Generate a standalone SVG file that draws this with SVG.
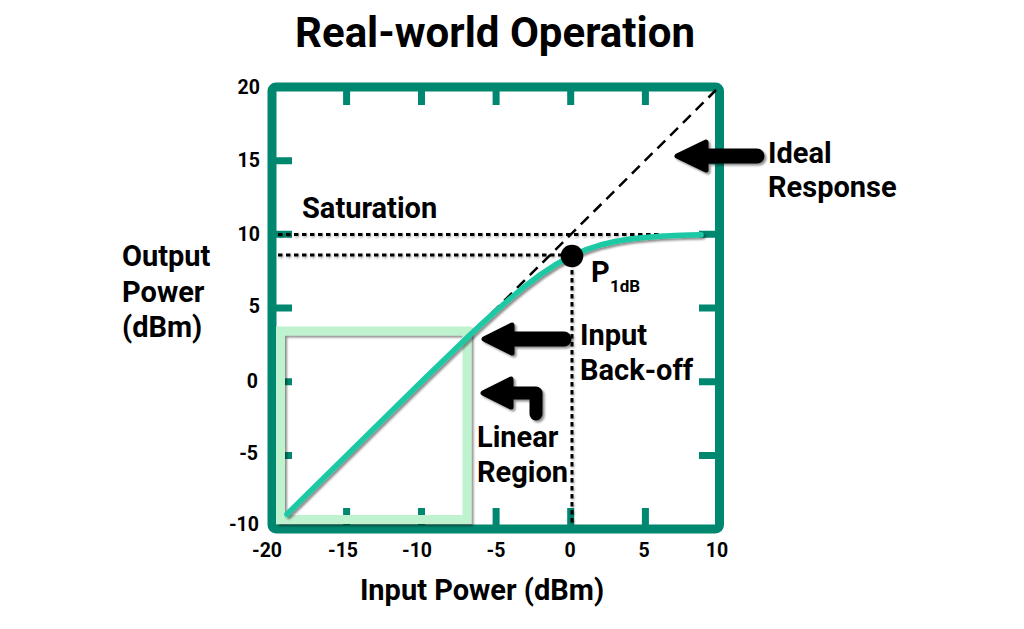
<svg xmlns="http://www.w3.org/2000/svg" width="1024" height="629" viewBox="0 0 1024 629">
<style>
text{font-family:Roboto,"Liberation Sans",sans-serif;font-weight:700;fill:#000}
.t{font-size:29px}
.tick{font-size:19.5px}
.frame{fill:none;stroke:#00876F;stroke-width:9}
.tk{stroke:#00876F;stroke-width:7;fill:none}
.curve{fill:none;stroke:#1DC9A4;stroke-width:5.5;stroke-linecap:round;stroke-linejoin:round}
.dot{fill:none;stroke:#000;stroke-width:3;stroke-dasharray:4.5 3.5}
.dash{fill:none;stroke:#000;stroke-width:2.5;stroke-dasharray:11 7}
.arr{fill:#000;stroke:#000;stroke-width:5;stroke-linejoin:round;stroke-linecap:round}
.shaft{fill:none;stroke:#000;stroke-width:15;stroke-linecap:round;stroke-linejoin:round}
</style>
<defs>
<filter id="sh" filterUnits="userSpaceOnUse" x="0" y="0" width="1024" height="629">
<feDropShadow dx="2" dy="2" stdDeviation="1.2" flood-color="#000" flood-opacity="0.45"/>
</filter>
<filter id="shl" filterUnits="userSpaceOnUse" x="0" y="0" width="1024" height="629">
<feDropShadow dx="1" dy="1.5" stdDeviation="1" flood-color="#000" flood-opacity="0.3"/>
</filter>
</defs>
<rect width="1024" height="629" fill="#fff"/>

<g id="title"><text x="495" y="46.5" font-size="42" text-anchor="middle">Real-world Operation</text></g>

<g id="axes">
<g class="tk">
<path d="M346.6 91V105M421.5 91V105M496.1 91V105M570.7 91V105M645.4 91V105"/>
<path d="M276 160.7H292M276 234.3H292M276 308H292M276 381.7H292M276 455.4H292"/>
<path d="M715 160.7H699M715 234.3H699M715 308H699M715 381.7H699M715 455.4H699"/>
<path d="M346.6 525V508M421.5 525V508M496.1 525V508M570.7 525V508M645.4 525V508"/>
</g>
<rect class="frame" x="272" y="87" width="447.5" height="442" rx="4"/>
<g class="tick" text-anchor="end">
<text x="260" y="94">20</text>
<text x="260" y="167">15</text>
<text x="260" y="241">10</text>
<text x="260" y="313">5</text>
<text x="258" y="388">0</text>
<text x="258" y="460">-5</text>
<text x="259" y="531">-10</text>
</g>
<g class="tick" text-anchor="middle">
<text x="267" y="557">-20</text>
<text x="343" y="557">-15</text>
<text x="417" y="557">-10</text>
<text x="496" y="557">-5</text>
<text x="570" y="557">0</text>
<text x="644" y="557">5</text>
<text x="717" y="557">10</text>
</g>
<text class="t" x="482" y="600" text-anchor="middle">Input Power (dBm)</text>
<text class="t" x="122" y="266">Output</text>
<text class="t" x="122" y="301.5">Power</text>
<text class="t" x="122" y="336.5">(dBm)</text>
</g>

<g id="linear-region">
<rect x="280.5" y="331" width="186.5" height="188.5" fill="none" stroke="#BFF2CF" stroke-width="9" filter="url(#sh)"/>
</g>

<g id="connectors">
<path class="dot" d="M278 234.5H660" filter="url(#shl)"/>
<path class="dot" d="M278 255H562" filter="url(#shl)"/>
<path class="dot" d="M572 262V523" filter="url(#shl)"/>
<path class="dash" d="M466 338.7L716 90"/>
<path class="curve" filter="url(#sh)" d="M286.9 514.3L421.2 382L465.9 338.7L480.8 324.7L495.8 311L510.7 298L525.6 285.7L540.5 274.5L555.4 264.7L570.3 256.5L585.3 249.9L600.2 245L615.1 241.5L630 239L644.9 237.4L659.8 236.3L674.8 235.5L689.7 235L701 234.7"/>
</g>

<g id="p1db">
<circle cx="572" cy="256" r="11.3" fill="#000"/>
<text class="t" x="591" y="282">P</text>
<text x="610" y="292" font-size="17">1dB</text>
</g>

<g id="saturation"><text class="t" x="302" y="218">Saturation</text></g>

<g id="ideal-response" filter="url(#sh)">
<path class="shaft" d="M700 156H757"/>
<path class="arr" d="M677 156L706 142V170Z"/>
</g>
<g id="ideal-label">
<text class="t" x="768" y="163">Ideal</text>
<text class="t" x="768" y="197">Response</text>
</g>

<g id="input-backoff" filter="url(#sh)">
<path class="shaft" d="M505 339H564"/>
<path class="arr" d="M484 339L512 325V353Z"/>
</g>
<g id="input-backoff-label">
<text class="t" x="580" y="345">Input</text>
<text class="t" x="580" y="380">Back-off</text>
</g>

<g id="linear-arrow" filter="url(#sh)">
<path class="shaft" style="stroke-width:13" d="M536 414V393H505"/>
<path class="arr" d="M483 393L511 379V407Z"/>
</g>
<g id="linear-label">
<text class="t" x="477" y="447">Linear</text>
<text class="t" x="477" y="482">Region</text>
</g>
</svg>
